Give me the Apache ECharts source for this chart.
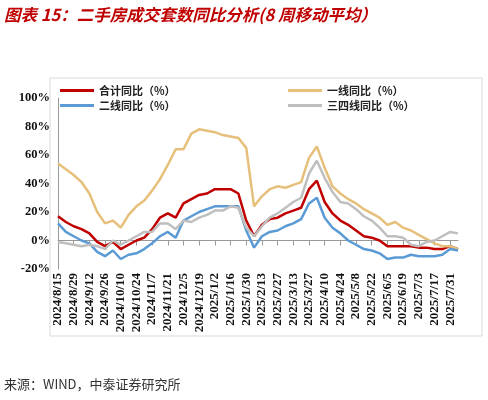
<!DOCTYPE html>
<html><head><meta charset="utf-8">
<script src="https://cdn.jsdelivr.net/npm/echarts@6/dist/echarts.min.js"></script>
<style>html,body{margin:0;padding:0;background:#fff}#c{width:488px;height:400px}</style>
</head><body><div id="c"></div>
<script>
var categories = (function(){var out=[];var d=new Date(2024,7,15);for(var i=0;i<52;i++){out.push(d.getFullYear()+'/'+(d.getMonth()+1)+'/'+d.getDate());d=new Date(d.getTime()+7*86400000);}return out;})();
var total = [17,13,10,8,5,-1,-4,-1,-6,-3,0,2,8,16,19,16,26,29,32,33,36,36,36,33,14,3,11,15,16,19,21,23,36,42,27,19,14,11,7,3,2,0,-4,-4,-4,-4,-5,-5,-6,-6,-4,-6];
var tier1 = [54,50,46,41,33,20,12,14,9,18,24,28,35,43,53,64,64,75,78,77,76,74,73,72,65,24,31,36,38,37,39,41,58,66,51,38,33,29,26,22,19,16,11,13,9,7,4,1,-2,-4,-4,-6];
var tier2 = [12,6,3,0,-2,-8,-11,-7,-13,-10,-9,-6,-2,3,6,2,14,17,20,22,24,24,24,24,7,-5,3,6,7,10,12,15,26,30,16,9,5,0,-3,-6,-7,-9,-13,-12,-12,-10,-11,-11,-11,-10,-6,-7];
var tier34 = [-1,-2,-3,-4,-3,-4,-6,0,-3,0,3,6,6,12,12,8,14,13,16,18,21,21,24,23,9,3,10,16,19,23,27,30,47,56,44,34,27,26,22,17,14,9,3,3,2,-3,-4,-1,0,3,6,5];
var yTicks = [-20,0,20,40,60,80,100];
var names = ['合计同比（%）','一线同比（%）','二线同比（%）','三四线同比（%）'];
var colors = ['#c00000','#e6c07b','#5b9bd5','#bfbfbf'];
var chart = echarts.init(document.getElementById('c'));
var serif = 'Liberation Serif, Times New Roman, serif';
function s(n,d,c){return {name:n,type:'line',data:d,symbol:'none',lineStyle:{width:2.5,color:c},itemStyle:{color:c}};}
chart.setOption({
  animation:false,
  graphic:[
    {type:'text',left:4,top:6,style:{text:'图表 15：二手房成交套数同比分析(8 周移动平均）',fill:'#c00000',font:'italic bold 16.5px "Noto Sans CJK SC"'}},
    {type:'rect',shape:{x:50,y:78,width:432,height:258},style:{fill:'none',stroke:'#d9d9d9',lineWidth:1}},
    {type:'text',left:4,top:378,style:{text:'来源：WIND，中泰证券研究所',fill:'#333',font:'13px "Noto Sans CJK SC"'}}
  ],
  legend:[
    {orient:'vertical',left:55,top:80,itemWidth:34,itemHeight:3,itemGap:4,icon:'rect',data:[names[0],names[2]],textStyle:{fontSize:11,fontWeight:'bold',color:'#222',fontFamily:'Noto Sans CJK SC'}},
    {orient:'vertical',left:283,top:80,itemWidth:34,itemHeight:3,itemGap:4,icon:'rect',data:[names[1],names[3]],textStyle:{fontSize:11,fontWeight:'bold',color:'#222',fontFamily:'Noto Sans CJK SC'}}
  ],
  grid:{left:58,right:30,top:98,bottom:131,containLabel:false},
  xAxis:{type:'category',data:categories,boundaryGap:false,
    axisLine:{lineStyle:{color:'#999'}},axisTick:{show:true,interval:1,lineStyle:{color:'#999'}},
    axisLabel:{interval:1,rotate:90,fontFamily:serif,fontWeight:'bold',fontSize:13,color:'#111',margin:4}},
  yAxis:{type:'value',min:-20,max:100,interval:20,splitLine:{show:false},
    axisLine:{show:true,lineStyle:{color:'#999'}},axisTick:{show:false},
    axisLabel:{formatter:'{value}%',fontFamily:serif,fontWeight:'bold',fontSize:12.5,color:'#111'}},
  series:[s(names[0],total,colors[0]),s(names[1],tier1,colors[1]),s(names[2],tier2,colors[2]),s(names[3],tier34,colors[3])]
});
</script></body></html>
